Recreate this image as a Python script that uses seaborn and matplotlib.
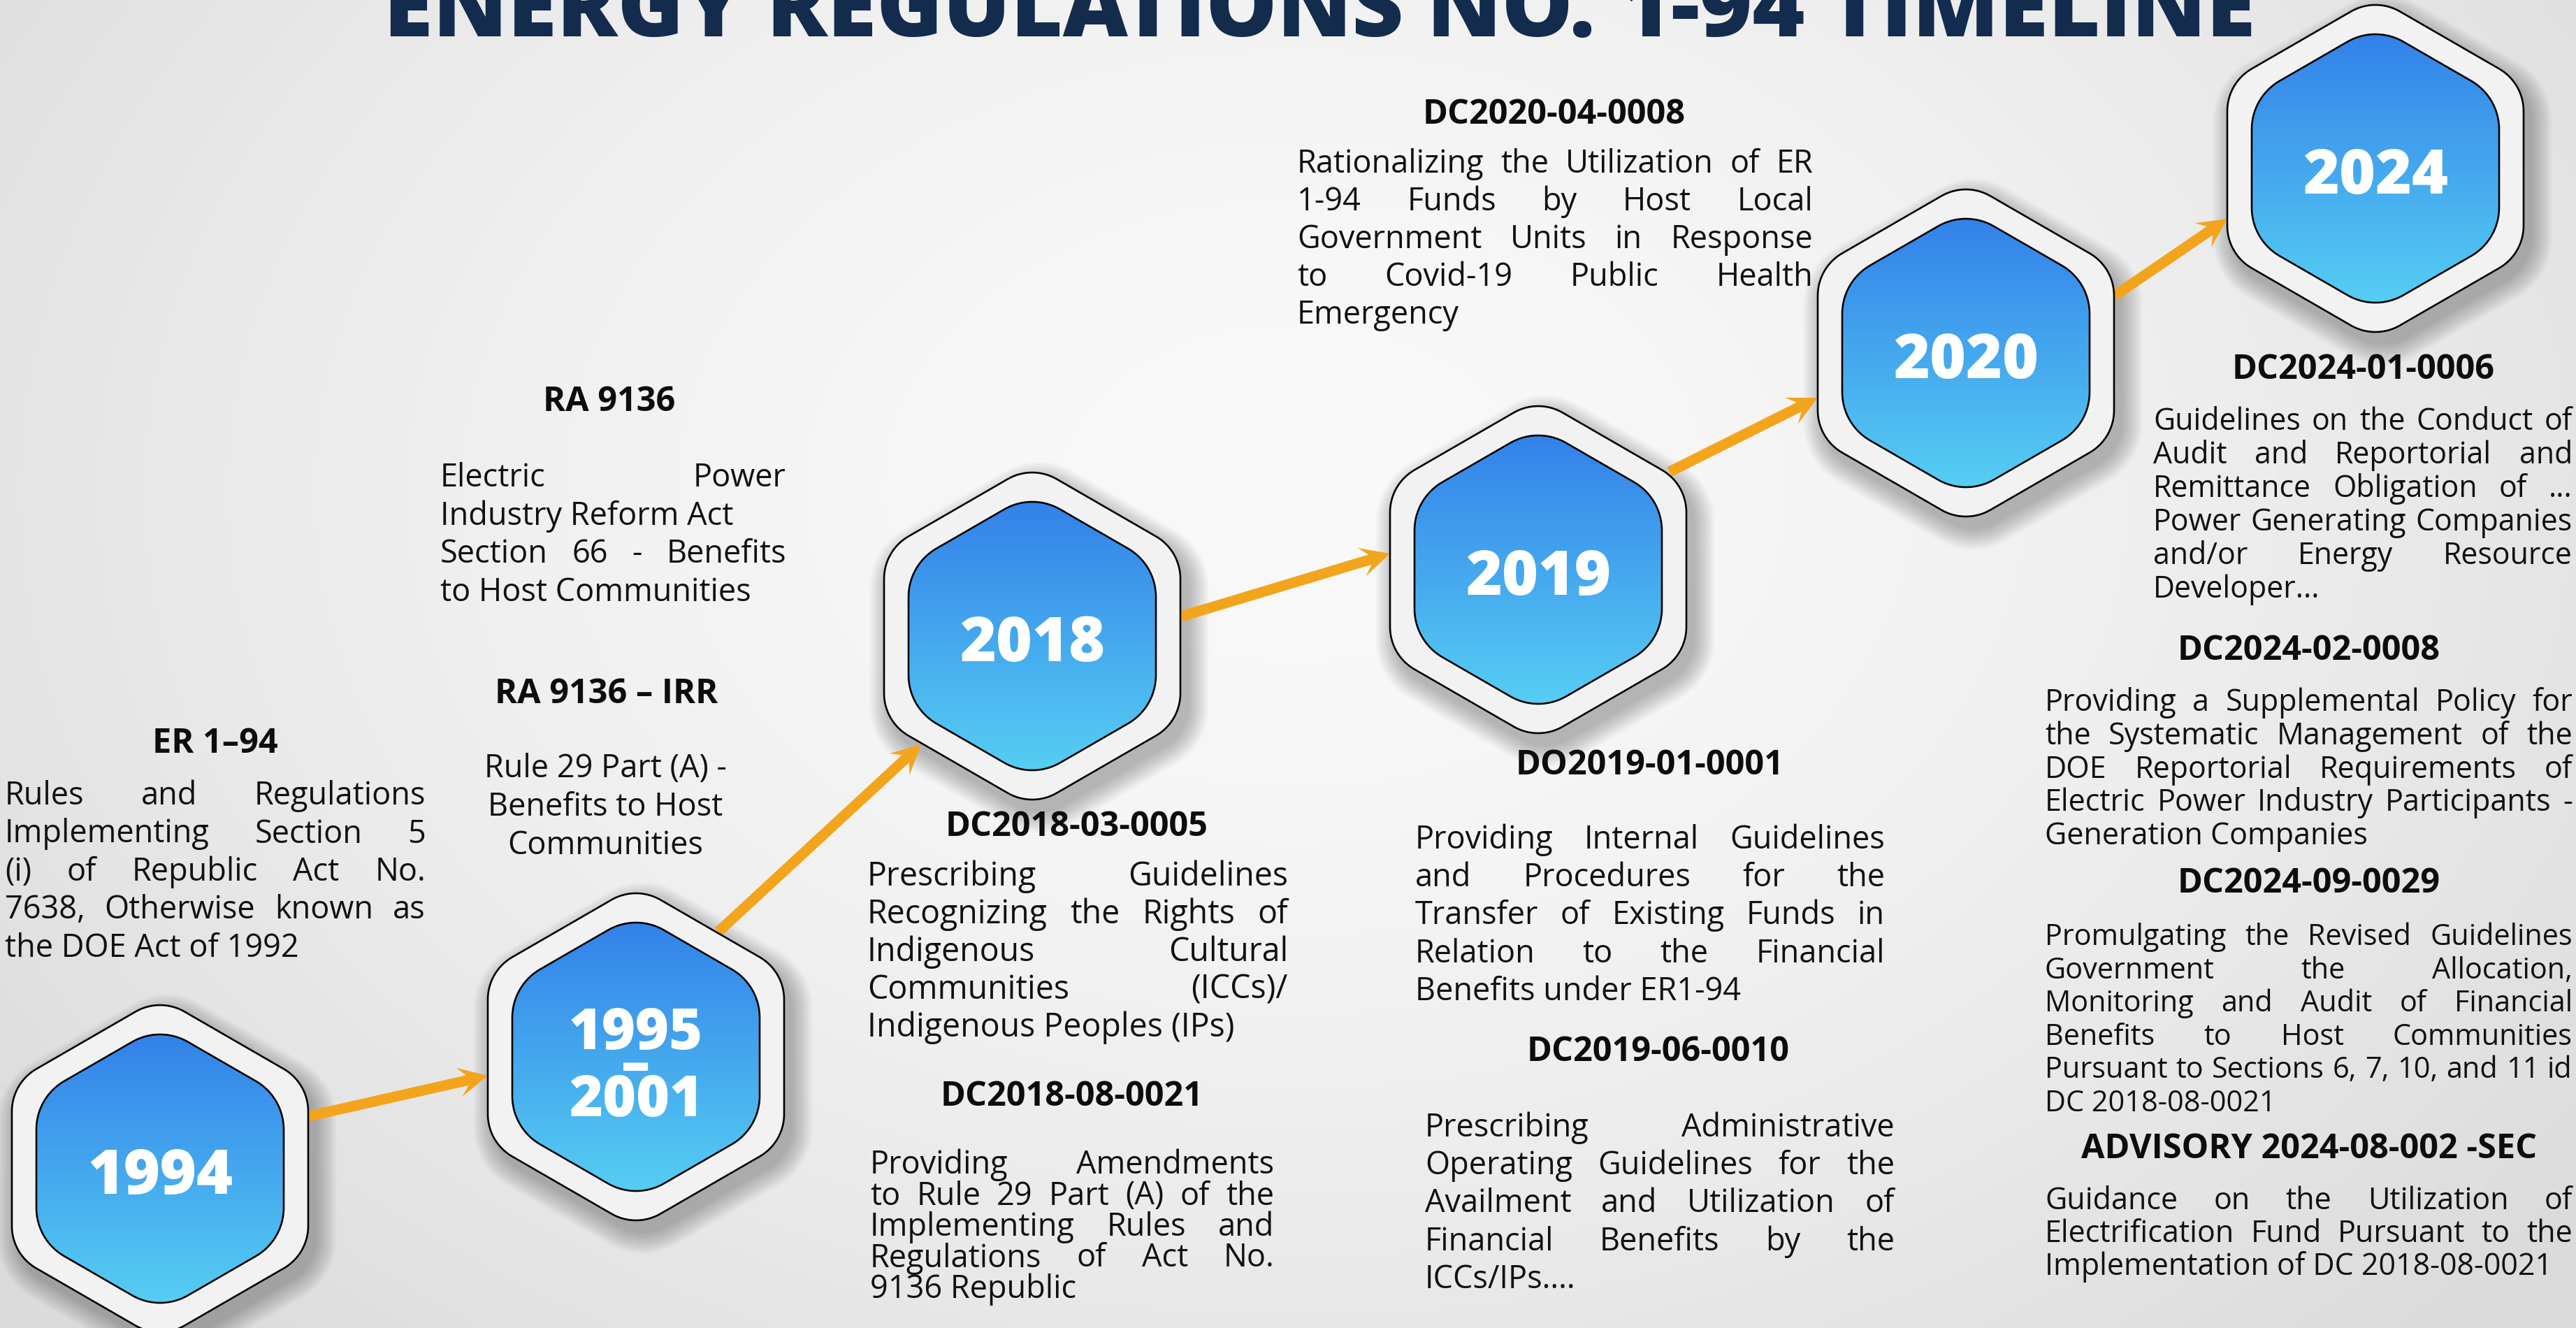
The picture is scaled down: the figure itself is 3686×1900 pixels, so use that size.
import numpy as np
import matplotlib
matplotlib.use("Agg")
import matplotlib.pyplot as plt
import seaborn as sns
from matplotlib.patches import Polygon
from matplotlib.font_manager import FontProperties

# ------------------------------------------------------------------ data
title = "ENERGY REGULATIONS NO. 1-94 TIMELINE"
years = ["1994", "1995-2001", "2018", "2019", "2020", "2024"]

heads = [
    "ER 1–94", "RA 9136", "RA 9136 – IRR", "DC2018-03-0005", "DC2018-08-0021",
    "DO2019-01-0001", "DC2019-06-0010", "DC2020-04-0008", "DC2024-01-0006",
    "DC2024-02-0008", "DC2024-09-0029", "ADVISORY 2024-08-002 -SEC",
]
bodies = [
    ["Rules and Regulations", "Implementing Section 5", "(i) of Republic Act No.",
     "7638, Otherwise known as", "the DOE Act of 1992"],
    ["Electric Power", "Industry Reform Act", "Section 66 - Benefits",
     "to Host Communities"],
    ["Rule 29 Part (A) -", "Benefits to Host", "Communities"],
    ["Prescribing Guidelines", "Recognizing the Rights of", "Indigenous Cultural",
     "Communities (ICCs)/", "Indigenous Peoples (IPs)"],
    ["Providing Amendments", "to Rule 29 Part (A) of the", "Implementing Rules and",
     "Regulations of Act No.", "9136 Republic"],
    ["Providing Internal Guidelines", "and Procedures for the",
     "Transfer of Existing Funds in", "Relation to the Financial",
     "Benefits under ER1-94"],
    ["Prescribing Administrative", "Operating Guidelines for the",
     "Availment and Utilization of", "Financial Benefits by the", "ICCs/IPs...."],
    ["Rationalizing the Utilization of ER", "1-94 Funds by Host Local",
     "Government Units in Response", "to Covid-19 Public Health", "Emergency"],
    ["Guidelines on the Conduct of", "Audit and Reportorial and",
     "Remittance Obligation of ...", "Power Generating Companies",
     "and/or Energy Resource", "Developer..."],
    ["Providing a Supplemental Policy for", "the Systematic Management of the",
     "DOE Reportorial Requirements of", "Electric Power Industry Participants -",
     "Generation Companies"],
    ["Promulgating the Revised Guidelines", "Government the Allocation,",
     "Monitoring and Audit of Financial", "Benefits to Host Communities",
     "Pursuant to Sections 6, 7, 10, and 11 id", "DC 2018-08-0021"],
    ["Guidance on the Utilization of", "Electrification Fund Pursuant to the",
     "Implementation of DC 2018-08-0021"],
]

# ------------------------------------------------------------------ layout (pixels)
W, H = 3687, 1900
hex_centers = [(229, 1672), (910, 1512), (1477, 910), (2201, 815), (2813, 505), (3399, 241)]
arrows = [((442, 1597), (698, 1539)), ((1028, 1333), (1318, 1065)),
          ((1690, 882), (1989, 792)), ((2389, 675), (2601, 569)),
          ((3026, 423), (3187, 313))]
# head (x, y), body x0, x1, first line y, line step, mode, non-justified lines, font size
blocks = [
    dict(h=(308, 1060), x0=7, x1=609, y0=1136, dy=54.5, mode="j", nj=(), fs=32.5),
    dict(h=(872, 571), x0=630, x1=1125, y0=681, dy=54.7, mode="j", nj=(1,), fs=32.5),
    dict(h=(868, 989), x0=866, x1=866, y0=1097, dy=55, mode="c", nj=(), fs=32.5),
    dict(h=(1541, 1179), x0=1241, x1=1843, y0=1252, dy=54, mode="j", nj=(), fs=33.5),
    dict(h=(1534, 1565), x0=1245, x1=1823, y0=1664, dy=44.5, mode="j", nj=(), fs=32.5),
    dict(h=(2361, 1091), x0=2025, x1=2697, y0=1199, dy=54.2, mode="j", nj=(), fs=32.5),
    dict(h=(2373, 1501), x0=2039, x1=2711, y0=1611, dy=54.2, mode="j", nj=(), fs=32.5),
    dict(h=(2224, 160), x0=1856, x1=2594, y0=232, dy=54, mode="j", nj=(), fs=32.5),
    dict(h=(3382, 525), x0=3081, x1=3681, y0=600, dy=48, mode="j", nj=(), fs=31),
    dict(h=(3304, 927), x0=2926, x1=3681, y0=1002, dy=47.8, mode="j", nj=(), fs=31),
    dict(h=(3304, 1260), x0=2926, x1=3681, y0=1337, dy=47.6, mode="j", nj=(), fs=31),
    dict(h=(3304, 1640), x0=2926, x1=3681, y0=1715, dy=47, mode="j", nj=(), fs=31),
]

# ------------------------------------------------------------------ style
sns.set_theme(style="white")
FAM = ["Open Sans", "DejaVu Sans"]
plt.rcParams["font.family"] = FAM
NAVY = "#132b4c"
ORANGE = "#f2a51c"
RING = "#f2f2f2"
PX = 72.0 / 100.0  # points per pixel

fig = plt.figure(figsize=(W / 100, H / 100), dpi=100)
ax = fig.add_axes([0, 0, 1, 1])
ax.set_xlim(0, W)
ax.set_ylim(H, 0)
ax.axis("off")

# background radial gradient
gy, gx = np.mgrid[0:H:10, 0:W:10]
r = np.sqrt(((gx - 1850) / 2100.0) ** 2 + ((gy - 700) / 1500.0) ** 2)
bg = np.clip(0.978 - 0.10 * r ** 1.6, 0.86, 1)
ax.imshow(np.dstack([bg, bg, bg]), extent=(0, W, H, 0), origin="upper",
          interpolation="bilinear", zorder=0, aspect="auto")


def rounded_hex(cx, cy, apothem, rad, n=20):
    rv = (apothem - rad) / np.cos(np.pi / 6)
    pts = []
    for k in range(6):
        th = np.pi / 2 + k * np.pi / 3
        ccx, ccy = cx + rv * np.cos(th), cy + rv * np.sin(th)
        for t in np.linspace(th - np.pi / 6, th + np.pi / 6, n):
            pts.append((ccx + rad * np.cos(t), ccy + rad * np.sin(t)))
    return np.array(pts)


A_OUT, R_OUT = 212, 70
A_IN, R_IN = 177, 80

# shadows
for (cx, cy) in hex_centers:
    for i in range(14):
        pts = rounded_hex(cx + 10, cy + 16, A_OUT + 2 + i * 2.2, R_OUT + i * 2)
        ax.add_patch(Polygon(pts, closed=True, facecolor="black", edgecolor="none",
                             alpha=0.018, zorder=1))


def arrow_poly(p0, p1, w=15, L=42, hw=21, notch=12):
    p0, p1 = np.array(p0, float), np.array(p1, float)
    u = (p1 - p0) / np.linalg.norm(p1 - p0)
    v = np.array([-u[1], u[0]])
    bn = p1 - u * (L - notch)
    bk = p1 - u * L
    return np.array([p0 + v * w / 2, bn + v * w / 2, bk + v * hw, p1,
                     bk - v * hw, bn - v * w / 2, p0 - v * w / 2])


for p0, p1 in arrows:
    ax.add_patch(Polygon(arrow_poly(p0, p1), closed=True, facecolor=ORANGE,
                         edgecolor="none", zorder=2))

# hexagons
grad = np.linspace(0, 1, 256)[:, None]
c_top = np.array([51, 129, 233]) / 255
c_bot = np.array([86, 206, 243]) / 255
grad_img = (c_top[None, None, :] * (1 - grad[:, :, None]) + c_bot[None, None, :] * grad[:, :, None])
grad_img = np.repeat(grad_img, 4, axis=1)

fig.canvas.draw()
renderer = fig.canvas.get_renderer()

for (cx, cy), yr in zip(hex_centers, years):
    ax.add_patch(Polygon(rounded_hex(cx, cy, A_OUT, R_OUT), closed=True, facecolor=RING,
                         edgecolor="black", linewidth=2.6 * PX, zorder=3))
    ipts = rounded_hex(cx, cy, A_IN, R_IN)
    inner_clip = Polygon(ipts, closed=True, facecolor="none", edgecolor="none",
                         transform=ax.transData)
    top, bot = ipts[:, 1].min(), ipts[:, 1].max()
    im = ax.imshow(grad_img, extent=(cx - A_IN - 2, cx + A_IN + 2, bot + 2, top - 2),
                   origin="upper", interpolation="bilinear", zorder=4, aspect="auto")
    ax.add_patch(inner_clip)
    im.set_clip_path(inner_clip)
    ax.add_patch(Polygon(ipts, closed=True, facecolor="none", edgecolor="black",
                         linewidth=2.6 * PX, zorder=5))
    if "-" in yr:
        a, b = yr.split("-")
        fs = 59
        fp = FontProperties(family=FAM, weight=800, size=fs)
        lh, _, ld = renderer.get_text_width_height_descent("lp", fp, ismath=False)
        step = 47.0
        ls = (step - ld) / (lh - ld)
        cap = 0.714 * fs / PX
        # baseline alignment refers to the last line ("2001")
        ax.text(cx, cy + 56 + cap / 2, a + "\n–\n" + b, color="white", fontproperties=fp,
                ha="center", va="baseline", multialignment="center", linespacing=ls,
                zorder=6)
    else:
        fs = 64
        cap = 0.714 * fs / PX
        ax.text(cx, cy + 4 + cap / 2, yr, color="white", fontsize=fs, fontweight=800,
                ha="center", va="baseline", zorder=6)

# title
fp_title = FontProperties(family=FAM, weight=800, size=100)
tw, _, _ = renderer.get_text_width_height_descent(title, fp_title, ismath=False)
title_size = 100 * 2680.0 / tw
ax.text(1888, 52, title, color=NAVY, fontsize=title_size, fontweight=800,
        ha="center", va="baseline", zorder=6)

# text blocks
HEAD_FS = 35


def width_of(s, fp):
    w, _, _ = renderer.get_text_width_height_descent(s, fp, ismath=False)
    return w


for head, lines, b in zip(heads, bodies, blocks):
    hcap = 0.714 * HEAD_FS / PX
    ax.text(b["h"][0], b["h"][1] + hcap / 2, head, fontsize=HEAD_FS, fontweight="bold",
            color="#0d0d0d", ha="center", va="baseline", zorder=6)
    fs = b["fs"]
    fp_body = FontProperties(family=FAM, size=fs)
    if b["mode"] == "j":
        # keep at least a normal word gap on every justified line
        span = b["x1"] - b["x0"]
        worst = max(width_of(ln, fp_body) for ln in lines[:-1])
        if worst > span * 0.99:
            fs = fs * span * 0.99 / worst
            fp_body = FontProperties(family=FAM, size=fs)
    for i, line in enumerate(lines):
        yb = b["y0"] + i * b["dy"] + 15
        if b["mode"] == "c":
            ax.text(b["x0"], yb, line, fontproperties=fp_body, color="#111111",
                    ha="center", va="baseline", zorder=6)
            continue
        words = line.split(" ")
        if i == len(lines) - 1 or i in b["nj"] or len(words) == 1:
            ax.text(b["x0"], yb, line, fontproperties=fp_body, color="#111111",
                    ha="left", va="baseline", zorder=6)
            continue
        ws = [width_of(wd, fp_body) for wd in words]
        gap = (b["x1"] - b["x0"] - sum(ws)) / (len(words) - 1)
        x = b["x0"]
        for wd, wdw in zip(words, ws):
            ax.text(x, yb, wd, fontproperties=fp_body, color="#111111",
                    ha="left", va="baseline", zorder=6)
            x += wdw + gap

fig.savefig("out.png", dpi=100)
